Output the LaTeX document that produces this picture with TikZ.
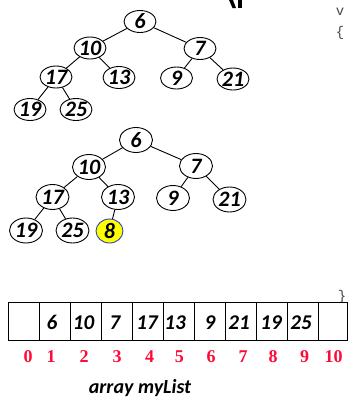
\documentclass[tikz,border=0pt]{standalone}
\usepackage{fontspec}
\setmainfont{Carlito}
\newfontfamily\idxfont{Liberation Serif}
\newfontfamily\codefont{Liberation Mono}
\usetikzlibrary{shapes.geometric}
\definecolor{idxred}{RGB}{255,10,55}
\definecolor{codegray}{RGB}{70,70,70}
\definecolor{hlyellow}{RGB}{255,255,0}
\definecolor{hlblue}{RGB}{40,70,190}
\tikzset{
  numtxt/.style={font=\fontsize{22}{22}\selectfont\bfseries\itshape},
  tnodeA/.style={ellipse,draw,line width=0.9pt,minimum width=32pt,minimum height=22pt,inner sep=0pt,numtxt},
  tnodeB/.style={ellipse,draw,line width=0.9pt,minimum width=33pt,minimum height=25pt,inner sep=0pt,numtxt},
  newnode/.style={tnodeB,fill=hlyellow,draw=hlblue,minimum width=27pt,minimum height=24pt},
  edge/.style={line width=0.9pt},
  cell/.style={rectangle,draw,line width=1.1pt,minimum height=38.3pt,inner sep=0pt,anchor=north west},
  celltxt/.style={font=\fontsize{21}{21}\selectfont\bfseries\itshape,inner sep=0pt},
  idx/.style={font=\fontsize{18}{18}\selectfont\idxfont\bfseries,text=idxred,inner sep=0pt},
  code/.style={font=\fontsize{14}{14}\selectfont\codefont,text=codegray,inner sep=0pt}
}
\begin{document}
\begin{tikzpicture}[x=1pt,y=-1pt]
\useasboundingbox (0,0) rectangle (348,400);
% cut-off glyph at top
\fill (229,0) -- (233,0) -- (236,8) -- (232.5,8) -- cycle;
\fill (238,0) rectangle (242,8);
% code fragments
\node[code] (cv) at (340,12) {v};
\node[code] (cb) at (340,33) {\{};
\node[code] (ce) at (342,297) {\}};
% tree 1
\node[tnodeA] (a6) at (140,21.5) {6};
\node[tnodeA] (a10) at (90,48) {10};
\node[tnodeA] (a7) at (200,48.5) {7};
\node[tnodeA] (a17) at (56,77) {17};
\node[tnodeA] (a13) at (119,77.5) {13};
\node[tnodeA] (a9) at (176.5,78) {9};
\node[tnodeA] (a21) at (233,79) {21};
\node[tnodeA] (a19) at (30,109.5) {19};
\node[tnodeA] (a25) at (76,109.5) {25};
\draw[edge] (a6)--(a10) (a6)--(a7) (a10)--(a17) (a10)--(a13) (a7)--(a9) (a7)--(a21) (a17)--(a19) (a17)--(a25);
% tree 2
\node[tnodeB] (b6) at (136,140) {6};
\node[tnodeB] (b10) at (89,167) {10};
\node[tnodeB] (b7) at (196,166) {7};
\node[tnodeB] (b17) at (52.5,197) {17};
\node[tnodeB] (b13) at (118,197) {13};
\node[tnodeB] (b9) at (173,198) {9};
\node[tnodeB] (b21) at (229.5,199.5) {21};
\node[tnodeB] (b19) at (26,230.5) {19};
\node[tnodeB] (b25) at (72.5,230.5) {25};
\node[newnode] (b8) at (109.5,231) {8};
\draw[edge] (b6)--(b10) (b6)--(b7) (b10)--(b17) (b10)--(b13) (b7)--(b9) (b7)--(b21) (b17)--(b19) (b17)--(b25) (b13)--(b8);
% array
\foreach \i/\xa/\xb in {0/8.3/39.3,1/39.3/70,2/70/101,3/101/132.3,4/132.3/163.3,5/163.3/194.3,6/194.3/225,7/225/256,8/256/286.7,9/286.7/318.3,10/318.3/346.7}{
  \pgfmathsetmacro{\w}{\xb-\xa}
  \node[cell,minimum width=\w pt] (c\i) at (\xa,301.7) {};
}
\foreach \t/\x in {6/52,10/83.5,7/115,17/147,13/175,9/210,21/239,19/271,25/301}{
  \node[celltxt] at (\x,322.5) {\t};
}
\foreach \t/\x in {0/28,1/51,2/84,3/117,4/149.5,5/179.5,6/211,7/243,8/273,9/304.5,10/333.5}{
  \node[idx] (i\t) at (\x,357) {\t};
}
\node[font=\fontsize{20}{20}\selectfont\bfseries\itshape,inner sep=0pt] (lbl) at (140,388) {array myList};
\end{tikzpicture}
\end{document}
